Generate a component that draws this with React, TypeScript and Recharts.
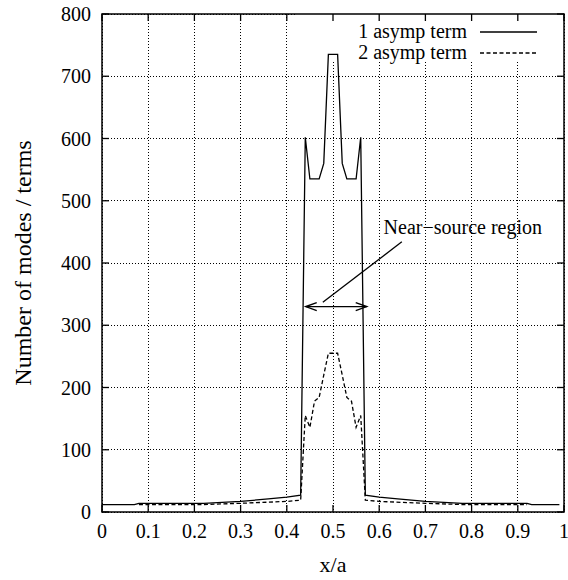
import {
  LineChart,
  Line,
  XAxis,
  YAxis,
  CartesianGrid,
  ReferenceArea,
  ReferenceLine,
  ReferenceDot,
} from "recharts";

// x/a positions and number of terms
const solidX = [0, 0.07, 0.08, 0.22, 0.3, 0.36, 0.4, 0.43, 0.44, 0.45, 0.46, 0.47, 0.48, 0.49, 0.5, 0.51, 0.52, 0.53, 0.54, 0.55, 0.56, 0.57, 0.6, 0.64, 0.7, 0.78, 0.92, 0.93, 0.99];
const solidY = [12, 12, 14, 14, 17, 21, 24, 27, 602, 535, 535, 535, 560, 735, 735, 735, 560, 535, 535, 535, 602, 27, 24, 21, 17, 14, 14, 12, 12];

const dashedX = [0.08, 0.22, 0.3, 0.4, 0.43, 0.44, 0.45, 0.46, 0.47, 0.48, 0.49, 0.5, 0.51, 0.52, 0.53, 0.54, 0.55, 0.56, 0.57, 0.6, 0.7, 0.78, 0.92];
const dashedY = [12, 12, 14, 17, 19, 155, 136, 178, 184, 220, 255, 255, 255, 220, 184, 178, 136, 155, 19, 17, 14, 12, 12];

const xTicks = [0, 0.1, 0.2, 0.3, 0.4, 0.5, 0.6, 0.7, 0.8, 0.9, 1];
const yTicks = [0, 100, 200, 300, 400, 500, 600, 700, 800];

const seriesNames = ["1 asymp term", "2 asymp term"];

// annotation: arrow across the near-source region, pointer line, label
const arrowFrom = { x: 0.441, y: 330 };
const arrowTo = { x: 0.573, y: 330 };
const pointerFrom = { x: 0.649, y: 434 };
const pointerTo = { x: 0.478, y: 337 };
const regionLabel = { x: 0.781, y: 458, text: "Near\u2212source region" };

const solidData = solidX.map((x, i) => ({ x, y: solidY[i] }));
const dashedData = dashedX.map((x, i) => ({ x, y: dashedY[i] }));

const W = 568;
const H = 580;
const PLOT = { left: 102, right: 564, top: 14, bottom: 512 };
const TICK = 7;
const FONT = "'Liberation Serif', 'Times New Roman', serif";
const tickStyle = { fontSize: 20, fontFamily: FONT, fill: "#000" };

// gnuplot style: short inward ticks at both ends of each tick position
const TickPair = (p: any) => {
  const { x1, y1, x2, y2 } = p;
  const vertical = Math.abs(x1 - x2) < 0.5;
  const dx = vertical ? 0 : Math.sign(x2 - x1) * TICK;
  const dy = vertical ? Math.sign(y2 - y1) * TICK : 0;
  return (
    <g stroke="#000" strokeWidth={1.3}>
      <line x1={x1} y1={y1} x2={x1 + dx} y2={y1 + dy} />
      <line x1={x2} y1={y2} x2={x2 - dx} y2={y2 - dy} />
    </g>
  );
};

const DoubleArrow = (p: any) => {
  const { x1, y1, x2, y2 } = p;
  const h = 11;
  const w = 4;
  return (
    <g stroke="#000" strokeWidth={1.4} fill="none">
      <line x1={x1} y1={y1} x2={x2} y2={y2} />
      <polyline points={`${x1 + h},${y1 - w} ${x1},${y1} ${x1 + h},${y1 + w}`} />
      <polyline points={`${x2 - h},${y2 - w} ${x2},${y2} ${x2 - h},${y2 + w}`} />
    </g>
  );
};

const PlainLine = (p: any) => (
  <line x1={p.x1} y1={p.y1} x2={p.x2} y2={p.y2} stroke="#000" strokeWidth={1.3} />
);

const RegionText = (p: any) => (
  <text x={p.cx} y={p.cy} textAnchor="middle" dominantBaseline="central" fontSize={20} fontFamily={FONT} fill="#000">
    {regionLabel.text}
  </text>
);

const YLabel = (p: any) => {
  const vb = p.viewBox || { x: 0, y: PLOT.top, height: PLOT.bottom - PLOT.top };
  const cx = vb.x + 23;
  const cy = vb.y + vb.height / 2;
  return (
    <text
      x={cx}
      y={cy}
      transform={`rotate(-90 ${cx} ${cy})`}
      textAnchor="middle"
      dominantBaseline="central"
      fontSize={24}
      fontFamily={FONT}
      fill="#000"
    >
      Number of modes / terms
    </text>
  );
};

export default function App() {
  return (
    <div style={{ position: "absolute", left: 0, top: 0, width: W, height: H, background: "#fff" }}>
      <LineChart width={W} height={H} margin={{ top: PLOT.top, right: W - PLOT.right, bottom: 0, left: 0 }}>
        <CartesianGrid stroke="#000" strokeDasharray="1 2" strokeWidth={1} shapeRendering="crispEdges" />
        <XAxis
          dataKey="x"
          type="number"
          domain={[0, 1]}
          ticks={xTicks}
          interval={0}
          height={H - PLOT.bottom}
          tickSize={0}
          tickMargin={12}
          axisLine={false}
          tickLine={false}
          tick={tickStyle}
          tickFormatter={(v: number) => String(v)}
          allowDuplicatedCategory={false}
          label={{ value: "x/a", position: "insideBottom", offset: 8, fontSize: 22, fontFamily: FONT, fill: "#000" }}
        />
        <YAxis
          dataKey="y"
          type="number"
          domain={[0, 800]}
          ticks={yTicks}
          interval={0}
          width={PLOT.left}
          tickSize={0}
          tickMargin={11}
          axisLine={false}
          tickLine={false}
          tick={tickStyle}
          label={<YLabel />}
        />
        {/* key area: gnuplot leaves grid out behind the key */}
        <ReferenceArea x1={0.42} x2={1} y1={723} y2={800} fill="#fff" fillOpacity={1} stroke="none" />
        <ReferenceArea x1={0} x2={1} y1={0} y2={800} fill="none" stroke="#000" strokeWidth={1.5} />
        {xTicks.map((v) => (
          <ReferenceLine key={`xt${v}`} x={v} shape={<TickPair />} ifOverflow="visible" />
        ))}
        {yTicks.map((v) => (
          <ReferenceLine key={`yt${v}`} y={v} shape={<TickPair />} ifOverflow="visible" />
        ))}
        <Line
          data={solidData}
          dataKey="y"
          name={seriesNames[0]}
          type="linear"
          stroke="#000"
          strokeWidth={1.3}
          dot={false}
          activeDot={false}
          isAnimationActive={false}
        />
        <Line
          data={dashedData}
          dataKey="y"
          name={seriesNames[1]}
          type="linear"
          stroke="#000"
          strokeWidth={1.3}
          strokeDasharray="4 2.5"
          dot={false}
          activeDot={false}
          isAnimationActive={false}
        />
        <ReferenceLine segment={[arrowFrom, arrowTo]} shape={<DoubleArrow />} ifOverflow="visible" />
        <ReferenceLine segment={[pointerFrom, pointerTo]} shape={<PlainLine />} ifOverflow="visible" />
        <ReferenceDot x={regionLabel.x} y={regionLabel.y} r={0} shape={<RegionText />} ifOverflow="visible" />
      </LineChart>
      <div
        style={{
          position: "absolute",
          left: 297,
          top: 21,
          width: 240,
          fontFamily: FONT,
          fontSize: 20,
          color: "#000",
        }}
      >
        {seriesNames.map((name, i) => (
          <div
            key={name}
            style={{ height: 21, display: "flex", justifyContent: "flex-end", alignItems: "center" }}
          >
            <span style={{ marginRight: 13, lineHeight: "21px" }}>{name}</span>
            <svg width={57} height={6}>
              <line
                x1={0}
                x2={57}
                y1={3}
                y2={3}
                stroke="#000"
                strokeWidth={1.3}
                strokeDasharray={i === 1 ? "4 2.5" : undefined}
              />
            </svg>
          </div>
        ))}
      </div>
    </div>
  );
}
